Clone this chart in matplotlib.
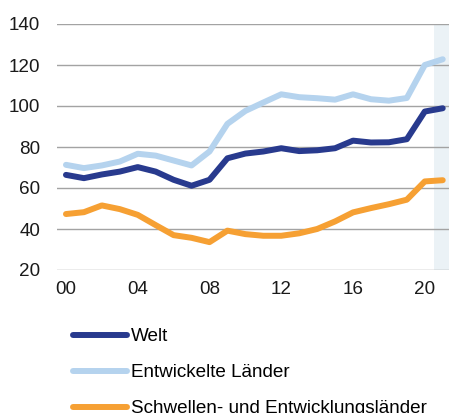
import numpy as np
import matplotlib
matplotlib.use("Agg")
import matplotlib.pyplot as plt

plt.rcParams["font.family"] = ["Liberation Sans", "DejaVu Sans"]

# ---------------------------------------------------------------------------
# Data
# ---------------------------------------------------------------------------
years = list(range(2000, 2022))
welt = [66.4, 64.8, 66.6, 68.0, 70.2, 68.0, 64.0, 61.1, 64.0, 74.5, 76.8,
        77.8, 79.4, 78.0, 78.4, 79.4, 83.1, 82.2, 82.3, 83.8, 97.3, 98.9]
entwickelt = [71.3, 69.7, 71.0, 72.9, 76.7, 75.8, 73.4, 71.0, 77.8, 91.3, 97.6,
              101.7, 105.7, 104.3, 103.8, 103.1, 105.7, 103.3, 102.6, 103.9, 120.0, 122.8]
schwellen = [47.3, 48.2, 51.5, 49.7, 46.9, 41.9, 37.0, 35.7, 33.6, 39.2, 37.5,
             36.7, 36.7, 37.9, 40.0, 43.7, 48.1, 50.2, 52.1, 54.3, 63.2, 63.8]

labels = ["Welt", "Entwickelte Länder", "Schwellen- und Entwicklungsländer"]
colors = ["#283a8e", "#b5d3ee", "#f6a033"]

xticks = [2000, 2004, 2008, 2012, 2016, 2020]
xticklabels = ["00", "04", "08", "12", "16", "20"]
yticks = [20, 40, 60, 80, 100, 120, 140]

# ---------------------------------------------------------------------------
# Plot
# ---------------------------------------------------------------------------
W, H = 449, 413
fig = plt.figure(figsize=(W / 100, H / 100), dpi=100)
ax = fig.add_axes([57 / W, (H - 270) / H, 1 - 57 / W, (270 - 24) / H])

ax.set_xlim(1999.5, 2021.35)
ax.set_ylim(20, 140)

# forecast shading
ax.axvspan(2020.5, 2021.35, color="#ebf2f6", zorder=0, lw=0)

for y in yticks:
    ax.axhline(y, color="#a3a3a3", lw=1.0, zorder=1)

handles = []
for series, lab, col in zip([welt, entwickelt, schwellen], labels, colors):
    h, = ax.plot(years, series, color=col, lw=4.3, label=lab,
                 solid_capstyle="round", solid_joinstyle="round", zorder=3,
                 clip_on=False)
    handles.append(h)

for s in ax.spines.values():
    s.set_visible(False)

ax.set_xticks(xticks)
ax.set_xticklabels(xticklabels)
ax.set_yticks(yticks)
ax.tick_params(length=0, labelsize=13.6, colors="#1a1a1a")
ax.tick_params(axis="y", pad=12)
ax.tick_params(axis="x", pad=8)

fig.legend(handles=handles, loc="upper left",
           bbox_to_anchor=(73 / W, (H - 328) / H), frameon=False,
           fontsize=13.6, handlelength=2.85, handletextpad=0.2,
           labelspacing=1.0, borderpad=0, borderaxespad=0)

fig.savefig("out.png", dpi=100)
